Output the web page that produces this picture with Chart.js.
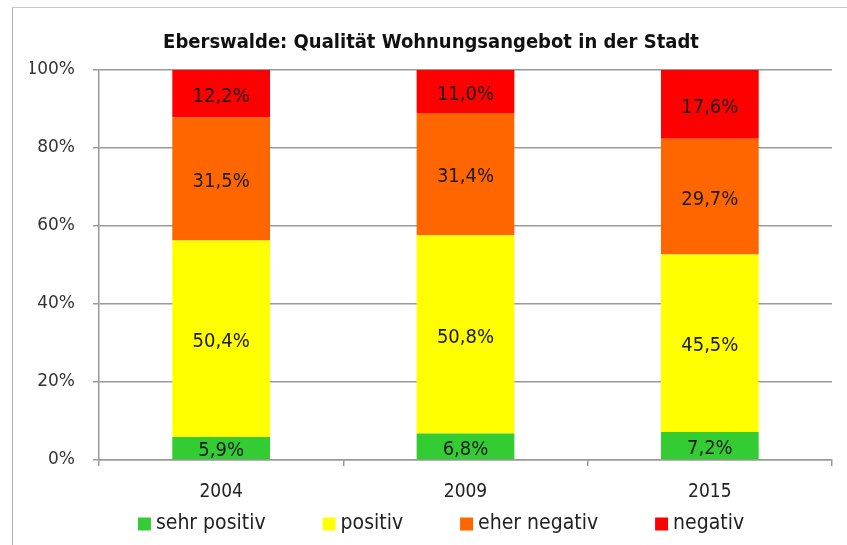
<!DOCTYPE html>
<html><head><meta charset="utf-8">
<script src="https://cdn.jsdelivr.net/npm/chart.js@4"></script>
<style>
html,body{margin:0;padding:0;background:#fff;}
#wrap{position:relative;width:847px;height:545px;}
#frame{position:absolute;left:12px;top:7px;width:840px;height:545px;border-left:1.5px solid #b0b0b0;border-top:1.5px solid #c8c8c8;box-sizing:border-box;}
canvas{position:absolute;left:0;top:0;}
</style></head>
<body>
<div id="wrap"><div id="frame"></div><canvas id="c" width="847" height="545"></canvas></div>
<script>
const categories = ['2004', '2009', '2015'];
const sehrPositiv = [5.9, 6.8, 7.2];
const positiv = [50.4, 50.8, 45.5];
const eherNegativ = [31.5, 31.4, 29.7];
const negativ = [12.2, 11.0, 17.6];
const yTicks = [0, 20, 40, 60, 80, 100];

const FONT = "'DejaVu Sans Condensed', 'Liberation Sans Narrow', sans-serif";
const FONT_Y = "'DejaVu Sans', sans-serif";

const labelPlugin = {
  id: 'segLabels',
  afterDatasetsDraw(chart) {
    const ctx = chart.ctx;
    ctx.save();
    ctx.font = "20px " + FONT;
    ctx.fillStyle = '#1a1a1a';
    ctx.textAlign = 'center';
    ctx.textBaseline = 'middle';
    chart.data.datasets.forEach((ds, i) => {
      const meta = chart.getDatasetMeta(i);
      meta.data.forEach((bar, j) => {
        const v = ds.data[j];
        const y = (bar.y + bar.base) / 2;
        ctx.fillText(v.toFixed(1).replace('.', ',') + '%', bar.x, y + 3);
      });
    });
    ctx.restore();
  }
};

const legendPlugin = {
  id: 'customLegend',
  afterDraw(chart) {
    const ctx = chart.ctx;
    ctx.save();
    ctx.font = "21px " + FONT;
    ctx.textBaseline = 'middle';
    ctx.textAlign = 'left';
    const box = 13, gapText = 5, gapItem = 57;
    const items = chart.data.datasets.map(ds => ({ label: ds.label, color: ds.backgroundColor, w: ctx.measureText(ds.label).width }));
    let total = 0;
    items.forEach((it, i) => { total += box + gapText + it.w + (i < items.length - 1 ? gapItem : 0); });
    const cx = 441;
    let x = cx - total / 2;
    const y = 524;
    items.forEach(it => {
      ctx.fillStyle = it.color;
      ctx.fillRect(x, y - box / 2, box, box);
      ctx.fillStyle = '#222';
      ctx.fillText(it.label, x + box + gapText, y);
      x += box + gapText + it.w + gapItem;
    });
    ctx.restore();
  }
};

new Chart(document.getElementById('c'), {
  type: 'bar',
  data: {
    labels: categories,
    datasets: [
      { label: 'sehr positiv', data: sehrPositiv, backgroundColor: '#33cc33' },
      { label: 'positiv', data: positiv, backgroundColor: '#ffff00' },
      { label: 'eher negativ', data: eherNegativ, backgroundColor: '#ff6600' },
      { label: 'negativ', data: negativ, backgroundColor: '#ff0000' }
    ]
  },
  options: {
    responsive: false,
    animation: false,
    layout: { padding: { left: 30, right: 15, top: 31, bottom: 43 } },
    datasets: { bar: { categoryPercentage: 1.0, barPercentage: 0.4 } },
    scales: {
      x: {
        stacked: true,
        offset: true,
        grid: { offset: true, drawOnChartArea: false, color: '#999', lineWidth: 1.5, tickLength: 6 },
        border: { color: '#999', width: 1.5 },
        ticks: { color: '#222', font: { family: FONT, size: 19 }, padding: 15 },
        afterFit(s) { s.height = 42; }
      },
      y: {
        stacked: true,
        min: 0, max: 100,
        afterBuildTicks(s) { s.ticks = yTicks.map(v => ({ value: v })); },
        grid: { color: '#999', lineWidth: 1.5, tickLength: 6 },
        border: { color: '#999', width: 1.5 },
        ticks: { color: '#333', font: { family: FONT_Y, size: 17 }, padding: 18, callback: v => v + '%' },
        afterFit(s) { s.width = 69; }
      }
    },
    plugins: {
      title: {
        display: true,
        text: 'Eberswalde: Qualität Wohnungsangebot in der Stadt',
        color: '#111',
        font: { family: FONT, size: 20, weight: 'bold' },
        padding: { top: 0, bottom: 15 }
      },
      legend: { display: false },
      tooltip: { enabled: false }
    }
  },
  plugins: [labelPlugin, legendPlugin]
});
</script>
</body></html>
